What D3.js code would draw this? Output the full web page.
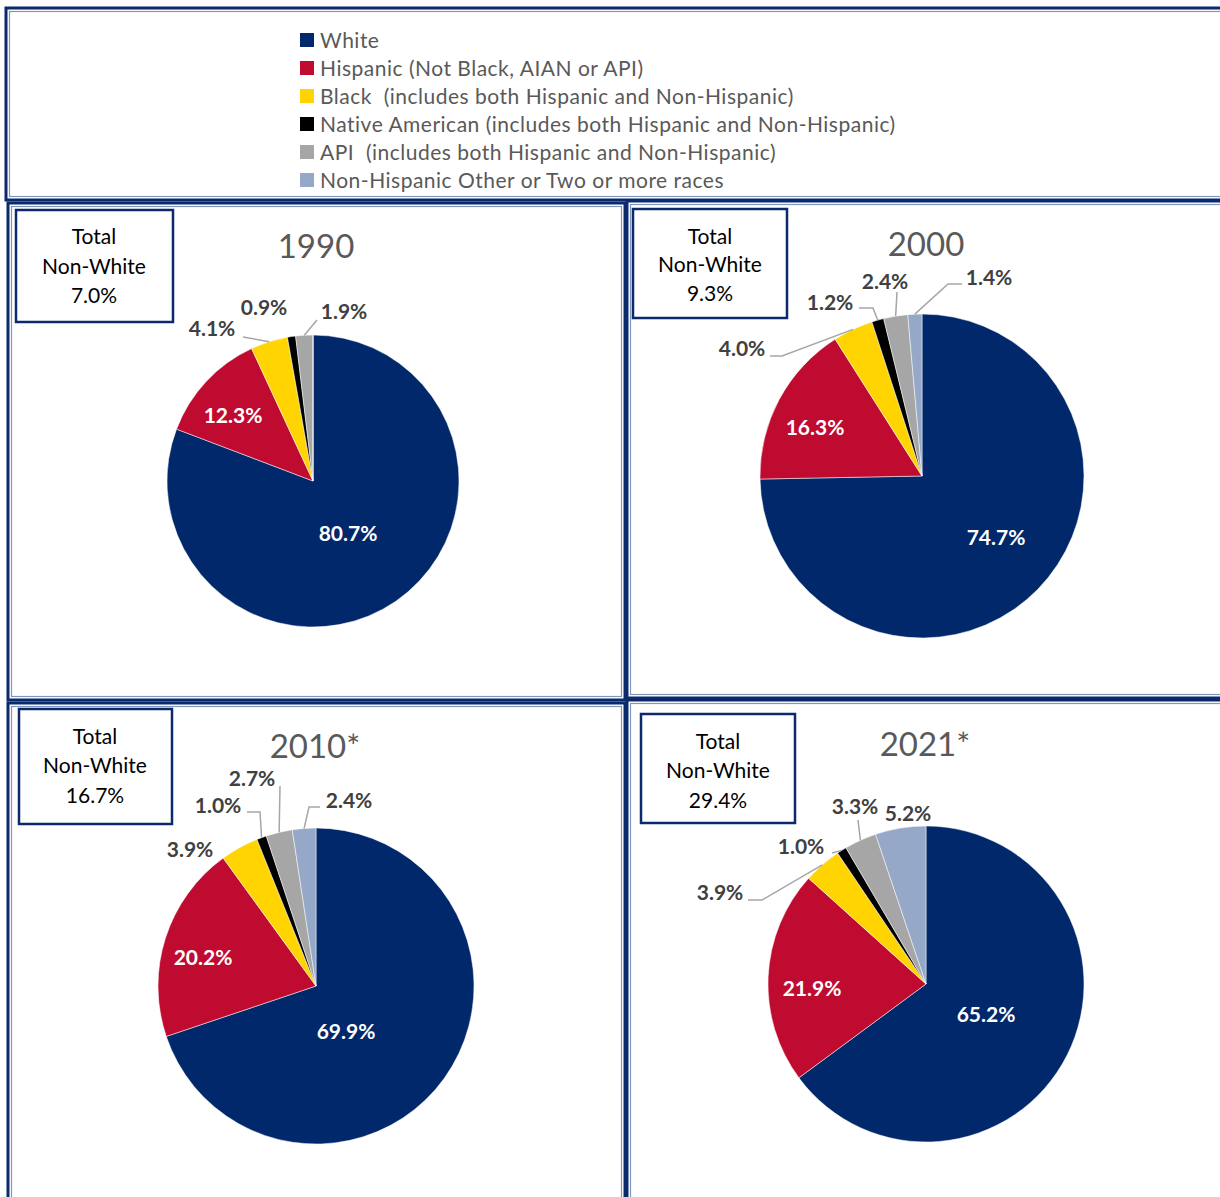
<!DOCTYPE html>
<html>
<head>
<meta charset="utf-8">
<script src="https://cdn.jsdelivr.net/npm/d3@7/dist/d3.min.js"></script>
<style>
  body { margin: 0; background: #fff; }
  text { font-family: Lato, "Open Sans", sans-serif; white-space: pre; }
</style>
</head>
<body>
<svg id="pies" width="1220" height="1197"></svg>
<script>
// categories and values
var categories = ["White",
  "Hispanic (Not Black, AIAN or API)",
  "Black  (includes both Hispanic and Non-Hispanic)",
  "Native American (includes both Hispanic and Non-Hispanic)",
  "API  (includes both Hispanic and Non-Hispanic)",
  "Non-Hispanic Other or Two or more races"];
var colors = ["#00286a", "#c00b30", "#ffd400", "#000000", "#a6a6a6", "#95a8c7"];
var years = ["1990", "2000", "2010*", "2021*"];
var values1990 = [80.7, 12.3, 4.1, 0.9, 1.9, 0];
var values2000 = [74.7, 16.3, 4.0, 1.2, 2.4, 1.4];
var values2010 = [69.9, 20.2, 3.9, 1.0, 2.7, 2.4];
var values2021 = [65.2, 21.9, 3.9, 1.0, 3.3, 5.2];
var nonWhite = ["7.0%", "9.3%", "16.7%", "29.4%"];

var svg = d3.select("#pies"),
    navy = "#0a2a6c",
    pale = "#8196bd";

function frame(x, y, w, h) {
  svg.append("rect").attr("x", x).attr("y", y).attr("width", w).attr("height", h)
    .attr("fill", "none").attr("stroke", navy).attr("stroke-width", 3);
  svg.append("rect").attr("x", x + 3.5).attr("y", y + 3.5).attr("width", w - 7).attr("height", h - 7)
    .attr("fill", "none").attr("stroke", pale).attr("stroke-width", 1.2);
}

// legend box
frame(6, 8, 1230, 192);
var legend = svg.append("g").selectAll("g")
  .data(categories)
  .enter().append("g")
    .attr("transform", function(d, i) { return "translate(300," + (40 + i * 28) + ")"; });
legend.append("rect").attr("y", -7).attr("width", 14).attr("height", 14)
  .attr("fill", function(d, i) { return colors[i]; });
legend.append("text").attr("x", 20).attr("dy", "0.36em")
  .attr("font-size", 21).attr("letter-spacing", 0.5).attr("fill", "#595959")
  .text(function(d) { return d; });

// panel layout (positions only)
var panels = [
  { values: values1990, frame: [8, 203, 617, 497], c: [313, 481], r: 146, title: [316, 246],
    box: [16, 210, 157, 112], boxText: [94, 236, 266, 295],
    inner: [[348, 533], [233, 415]],
    outer: [
      { i: 2, at: [212, 328], lead: [[243, 337]] },
      { i: 3, at: [264, 307], lead: null },
      { i: 4, at: [344, 311], lead: [[317, 320]] }
    ] },
  { values: values2000, frame: [627, 201, 610, 497], c: [922, 476], r: 162, title: [926, 244],
    box: [633, 209, 154, 109], boxText: [710, 236, 264, 293],
    inner: [[996, 537], [815, 427]],
    outer: [
      { i: 2, at: [742, 348], lead: [[770, 356], [782, 356]] },
      { i: 3, at: [830, 302], lead: [[859, 308], [873, 308]] },
      { i: 4, at: [885, 281], lead: [[897, 292]] },
      { i: 5, at: [989, 277], lead: [[962, 284], [948, 284]] }
    ] },
  { values: values2010, frame: [8, 703, 617, 510], c: [316, 986], r: 158, title: [315, 746],
    box: [19, 709, 153, 115], boxText: [95, 736, 765, 795],
    inner: [[346, 1031], [203, 957]],
    outer: [
      { i: 2, at: [190, 849], lead: null },
      { i: 3, at: [218, 805], lead: [[247, 812], [260, 812]] },
      { i: 4, at: [252, 778], lead: [[280, 786]] },
      { i: 5, at: [349, 800], lead: [[320, 807], [309, 807]] }
    ] },
  { values: values2021, frame: [627, 700, 610, 510], c: [926, 984], r: 158, title: [925, 744],
    box: [641, 714, 154, 109], boxText: [718, 741, 770, 800],
    inner: [[986, 1014], [812, 988]],
    outer: [
      { i: 2, at: [720, 892], lead: [[748, 900], [762, 900]] },
      { i: 3, at: [801, 846], lead: [[832, 853]] },
      { i: 4, at: [855, 806], lead: [[858, 820]] },
      { i: 5, at: [908, 813], lead: null }
    ] }
];

var pie = d3.pie().sort(null).value(function(d) { return d; });

panels.forEach(function(p, k) {
  frame(p.frame[0], p.frame[1], p.frame[2], p.frame[3]);

  var arcs = pie(p.values);
  var arc = d3.arc().innerRadius(0).outerRadius(p.r);
  var g = svg.append("g").attr("transform", "translate(" + p.c[0] + "," + p.c[1] + ")");

  g.selectAll("path")
    .data(arcs)
    .enter().append("path")
      .attr("d", arc)
      .attr("fill", function(d, i) { return colors[i]; })
      .attr("stroke", "#fff")
      .attr("stroke-width", 0.5);

  // title
  svg.append("text").attr("x", p.title[0]).attr("y", p.title[1]).attr("dy", "0.36em")
    .attr("text-anchor", "middle").attr("font-size", 33).attr("fill", "#595959")
    .text(years[k]);

  // total non-white box
  svg.append("rect").attr("x", p.box[0]).attr("y", p.box[1])
    .attr("width", p.box[2]).attr("height", p.box[3])
    .attr("fill", "#fff").attr("stroke", navy).attr("stroke-width", 2.5);
  ["Total", "Non-White", nonWhite[k]].forEach(function(t, j) {
    svg.append("text").attr("x", p.boxText[0]).attr("y", p.boxText[j + 1]).attr("dy", "0.36em")
      .attr("text-anchor", "middle").attr("font-size", 21).attr("fill", "#000")
      .text(t);
  });

  // white labels inside the two big slices
  p.inner.forEach(function(pos, i) {
    svg.append("text").attr("x", pos[0]).attr("y", pos[1]).attr("dy", "0.36em")
      .attr("text-anchor", "middle").attr("font-size", 21).attr("font-weight", "bold")
      .attr("fill", "#fff").text(p.values[i].toFixed(1) + "%");
  });

  // outside labels with leader lines to the slice edge
  p.outer.forEach(function(o) {
    var a = arcs[o.i],
        mid = (a.startAngle + a.endAngle) / 2,
        end = [p.c[0] + p.r * Math.sin(mid), p.c[1] - p.r * Math.cos(mid)];
    if (o.lead) {
      svg.append("path")
        .attr("d", d3.line()(o.lead.concat([end])))
        .attr("fill", "none").attr("stroke", "#a6a6a6").attr("stroke-width", 1.5);
    }
    svg.append("text").attr("x", o.at[0]).attr("y", o.at[1]).attr("dy", "0.36em")
      .attr("text-anchor", "middle").attr("font-size", 21).attr("font-weight", "bold")
      .attr("fill", "#404040").text(p.values[o.i].toFixed(1) + "%");
  });
});
</script>
</body>
</html>
